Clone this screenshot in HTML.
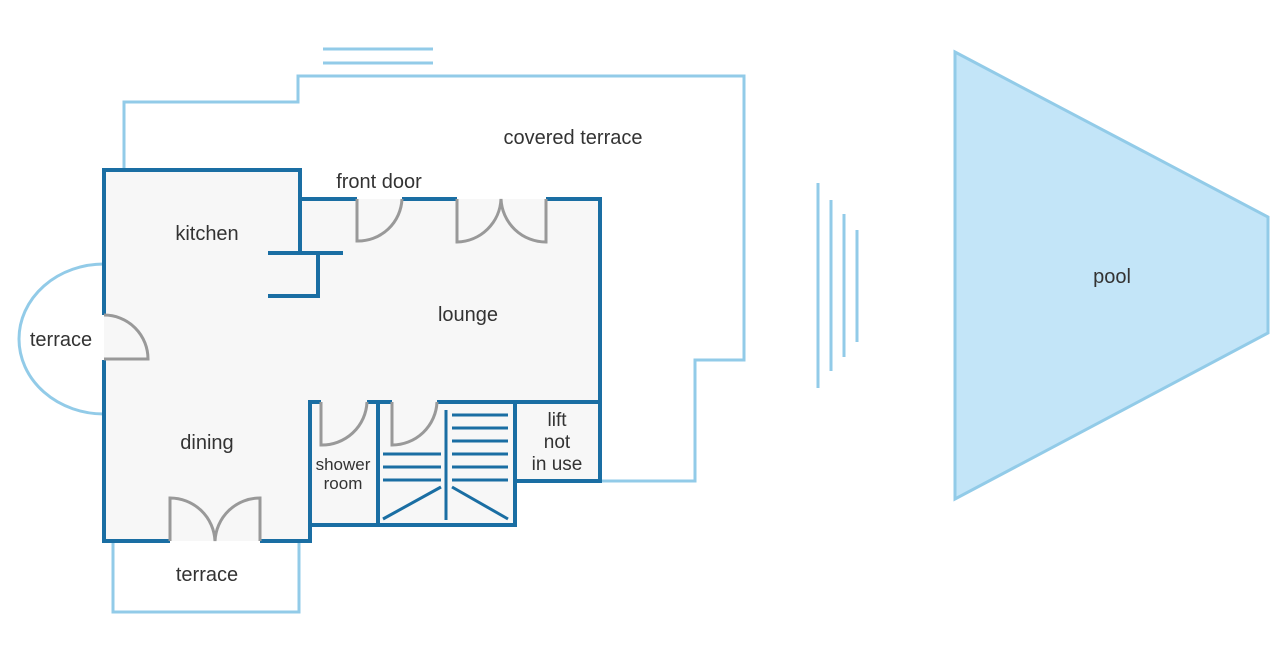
<!DOCTYPE html>
<html><head><meta charset="utf-8"><style>
html,body{margin:0;padding:0;background:#fff;}
svg{display:block}
text{font-family:"Liberation Sans",sans-serif;font-size:20px;fill:#333;}
</style></head><body>
<svg width="1280" height="647" viewBox="0 0 1280 647" xmlns="http://www.w3.org/2000/svg">
<g fill="none" stroke="#92cbe8" stroke-width="3">
<polyline points="124,170 124,102 298,102 298,76 744,76 744,360 695,360 695,481 600,481"/>
<line x1="323" y1="49" x2="433" y2="49"/>
<line x1="323" y1="63" x2="433" y2="63"/>
<path d="M104,264 A85,75 0 0 0 104,414"/>
<polyline points="113,541 113,612 299,612 299,541"/>
<line x1="818" y1="183" x2="818" y2="388"/>
<line x1="831" y1="200" x2="831" y2="371"/>
<line x1="844" y1="214" x2="844" y2="357"/>
<line x1="857" y1="230" x2="857" y2="342"/>
</g>
<polygon points="955,52 1268,217 1268,333 955,499" fill="#c3e5f8" stroke="#92cbe8" stroke-width="3"/>
<polygon points="104,170 300,170 300,199 600,199 600,481 515,481 515,525 310,525 310,541 104,541" fill="#f7f7f7"/>
<g fill="none" stroke="#1a6ea3" stroke-width="4">
<polyline points="104,315 104,170 300,170 300,252"/>
<line x1="298" y1="199" x2="357" y2="199"/>
<line x1="402" y1="199" x2="457" y2="199"/>
<polyline points="546,199 600,199 600,481 515,481 515,525 310,525 310,541 260,541"/>
<line x1="170" y1="541" x2="102" y2="541"/>
<line x1="104" y1="541" x2="104" y2="360"/>
<line x1="268" y1="253" x2="343" y2="253"/>
<polyline points="318,253 318,296 268,296"/>
<polyline points="310,525 310,402 321,402"/>
<line x1="367" y1="402" x2="392" y2="402"/>
<line x1="437" y1="402" x2="600" y2="402"/>
<line x1="378" y1="402" x2="378" y2="525"/>
<line x1="515" y1="402" x2="515" y2="481"/>
</g>
<g stroke="#1a6ea3" stroke-width="3" fill="none">
<line x1="446" y1="410" x2="446" y2="520"/>
<line x1="452" y1="415" x2="508" y2="415"/>
<line x1="452" y1="428" x2="508" y2="428"/>
<line x1="452" y1="441" x2="508" y2="441"/>
<line x1="452" y1="454" x2="508" y2="454"/>
<line x1="452" y1="467" x2="508" y2="467"/>
<line x1="452" y1="480" x2="508" y2="480"/>
<line x1="383" y1="454" x2="441" y2="454"/>
<line x1="383" y1="467" x2="441" y2="467"/>
<line x1="383" y1="480" x2="441" y2="480"/>
<line x1="383" y1="519" x2="441" y2="487"/>
<line x1="452" y1="487" x2="508" y2="519"/>
</g>
<g stroke="#999" stroke-width="3" fill="none">
<path d="M357,199 V241 A44,44 0 0 0 402,199"/>
<path d="M457,199 V242 A45,45 0 0 0 501,199 A45,45 0 0 0 546,242 V199"/>
<path d="M104,359 H148 A44,44 0 0 0 104,315"/>
<path d="M170,541 V498 A45,45 0 0 1 215,541 A45,45 0 0 1 260,498 V541"/>
<path d="M321,402 V445 A45,45 0 0 0 367,402"/>
<path d="M392,402 V445 A45,45 0 0 0 437,402"/>
</g>
<text x="573" y="144" text-anchor="middle">covered terrace</text>
<text x="379" y="188" text-anchor="middle">front door</text>
<text x="207" y="240" text-anchor="middle">kitchen</text>
<text x="468" y="321" text-anchor="middle">lounge</text>
<text x="61" y="346" text-anchor="middle">terrace</text>
<text x="207" y="449" text-anchor="middle">dining</text>
<text x="207" y="581" text-anchor="middle">terrace</text>
<text x="1112" y="283" text-anchor="middle">pool</text>
<text x="343" y="470" text-anchor="middle" style="font-size:17px">shower</text>
<text x="343" y="489" text-anchor="middle" style="font-size:17px">room</text>
<text x="557" y="426" text-anchor="middle" style="font-size:19px">lift</text>
<text x="557" y="448" text-anchor="middle" style="font-size:19px">not</text>
<text x="557" y="470" text-anchor="middle" style="font-size:19px">in use</text>
</svg>
</body></html>
